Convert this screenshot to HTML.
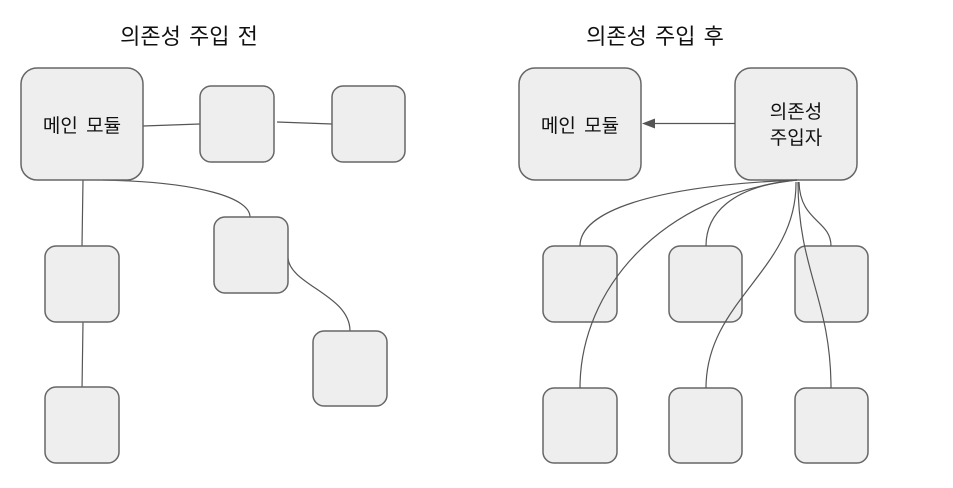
<!DOCTYPE html>
<html>
<head>
<meta charset="utf-8">
<style>
  html,body{margin:0;padding:0;background:#ffffff;}
  svg{display:block;}
  text{font-family:"Liberation Sans","Noto Sans CJK KR","NanumGothic",sans-serif;fill:#111;}
</style>
</head>
<body>
<svg width="953" height="488" viewBox="0 0 953 488" xmlns="http://www.w3.org/2000/svg">
  <rect width="953" height="488" fill="#ffffff"/>

  <!-- Titles -->
  <text x="189" y="44" font-size="22" word-spacing="2" text-anchor="middle">의존성 주입 전</text>
  <text x="655" y="44" font-size="22" word-spacing="2" text-anchor="middle">의존성 주입 후</text>

  <!-- LEFT connectors -->
  <g fill="none" stroke="#555" stroke-width="1.2">
    <line x1="143" y1="126" x2="200" y2="124"/>
    <line x1="277" y1="122" x2="332" y2="124"/>
    <line x1="83" y1="180" x2="82" y2="246"/>
    <line x1="83" y1="322" x2="82" y2="390"/>
    <path d="M103,180 C200,182 250,198 250,217"/>
    <path d="M288,258 C290,285 350,295 350,331"/>
  </g>

  <!-- LEFT boxes -->
  <g fill="#eeeeee" stroke="#666" stroke-width="1.5">
    <rect x="21" y="68" width="122" height="112" rx="16" ry="16"/>
    <rect x="200" y="86" width="74" height="76" rx="11" ry="11"/>
    <rect x="332" y="86" width="73" height="76" rx="11" ry="11"/>
    <rect x="214" y="217" width="74" height="76" rx="11" ry="11"/>
    <rect x="45" y="246" width="74" height="76" rx="11" ry="11"/>
    <rect x="45" y="387" width="74" height="76" rx="11" ry="11"/>
    <rect x="313" y="331" width="74" height="75" rx="11" ry="11"/>
  </g>
  <text x="82" y="132" font-size="19" word-spacing="3" text-anchor="middle">메인 모듈</text>

  <!-- RIGHT boxes -->
  <g fill="#eeeeee" stroke="#666" stroke-width="1.5">
    <rect x="519" y="68" width="122" height="112" rx="16" ry="16"/>
    <rect x="735" y="68" width="122" height="112" rx="16" ry="16"/>
    <rect x="543" y="246" width="74" height="76" rx="11" ry="11"/>
    <rect x="669" y="246" width="73" height="76" rx="11" ry="11"/>
    <rect x="795" y="246" width="73" height="76" rx="11" ry="11"/>
    <rect x="543" y="388" width="74" height="75" rx="11" ry="11"/>
    <rect x="669" y="388" width="73" height="75" rx="11" ry="11"/>
    <rect x="795" y="388" width="73" height="75" rx="11" ry="11"/>
  </g>

  <!-- RIGHT connectors (drawn over boxes) -->
  <g fill="none" stroke="#555" stroke-width="1.2">
    <line x1="735" y1="123.5" x2="654" y2="123.5"/>
    <path d="M797,180 C650,186 580,212 580,246"/>
    <path d="M797,180 C660,195 580,290 580,388"/>
    <path d="M797,180 C730,186 706,215 706,246"/>
    <path d="M796,182 C797,270 706,300 706,388"/>
    <path d="M799,182 C800,222 831,220 831,246"/>
    <path d="M798,182 C798,270 831,300 831,388"/>
  </g>
  <polygon points="642,123.5 655,118.5 655,128.5" fill="#555"/>

  <text x="580" y="132" font-size="19" word-spacing="3" text-anchor="middle">메인 모듈</text>
  <text x="796" y="118" font-size="19" text-anchor="middle">의존성</text>
  <text x="796" y="144" font-size="19" text-anchor="middle">주입자</text>
</svg>
</body>
</html>
